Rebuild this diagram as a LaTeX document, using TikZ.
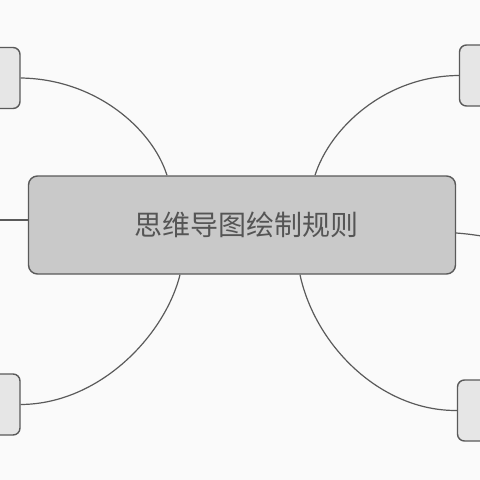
\documentclass[tikz,border=0pt]{standalone}
\usepackage{fontspec}
\newfontfamily\cjk{Noto Sans CJK SC}
\usetikzlibrary{calc}
\definecolor{bg}{HTML}{FAFAFA}
\definecolor{mainfill}{HTML}{C9C9C9}
\definecolor{sidefill}{HTML}{E6E6E6}
\definecolor{edge}{HTML}{5A5A5A}
\definecolor{txt}{HTML}{555555}
\tikzset{
  mainbox/.style={draw=edge, line width=1.4pt, fill=mainfill, rounded corners=9pt, minimum width=427pt, minimum height=98pt, inner sep=0pt, text=txt, font=\cjk\fontsize{28}{31}\selectfont},
  sidebox/.style={draw=edge, line width=1.4pt, fill=sidefill, rounded corners=7pt, minimum width=60pt, minimum height=61pt, inner sep=0pt},
  link/.style={draw=edge, line width=1.2pt}
}
\begin{document}
\begin{tikzpicture}[x=1pt,y=-1pt]
\useasboundingbox (0,0) rectangle (480,480);
\fill[bg] (0,0) rectangle (480,480);
\clip (0,0) rectangle (480,480);
\node[mainbox, text width=427pt, align=center] (c) at (242,225) {\hspace*{10pt}思维导图绘制规则};
\node[sidebox] (lt) at (-10,78) {};
\node[sidebox] (lb) at (-10,404.5) {};
\node[sidebox] (rt) at (489.5,75.5) {};
\node[sidebox] (rb) at (487.5,410.5) {};
\coordinate (lm) at (-5,220);
\coordinate (rm) at (485,236.5);
\coordinate (ctl) at (c.north west -| 167,0);
\coordinate (ctr) at (c.north west -| 315,0);
\coordinate (cbl) at (c.south west -| 180,0);
\coordinate (cbr) at (c.south west -| 300,0);
\draw[link] (lt.east) .. controls (95,79) and (152,128) .. (ctl);
\draw[link] (rt.west) .. controls (385,76) and (330,128) .. (ctr);
\draw[link] (cbl) .. controls (165,335) and (100,404) .. (lb.east);
\draw[link] (cbr) .. controls (315,345) and (380,411) .. (rb.west);
\draw[link] (lm) -- (c.west |- 0,220);
\draw[link] (c.east |- 0,233) .. controls (468,234) .. (rm);
\end{tikzpicture}
\end{document}
